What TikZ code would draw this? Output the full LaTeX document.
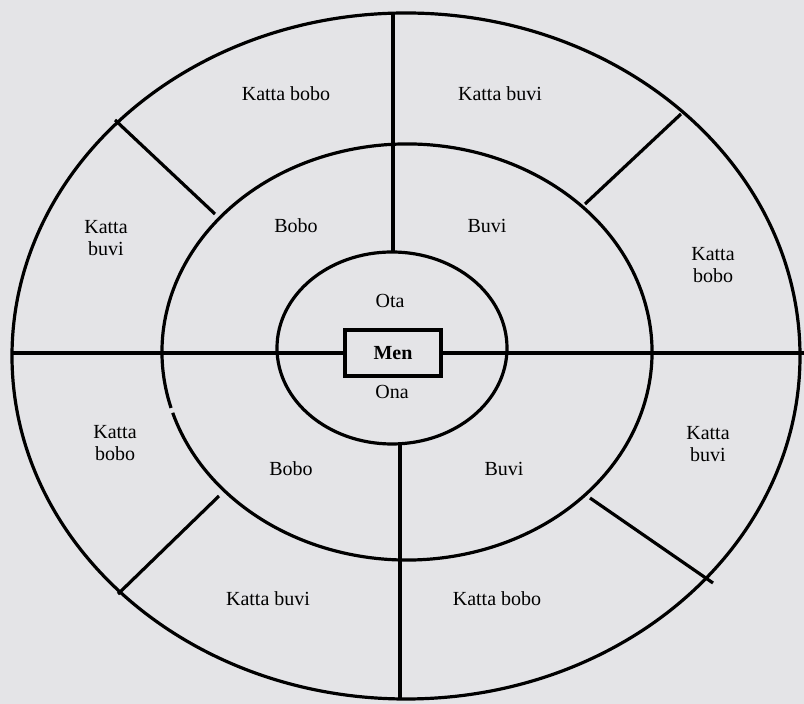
\documentclass[tikz,border=0pt]{standalone}
\usepackage{fontspec}
\setmainfont{Liberation Serif}
\definecolor{paper}{RGB}{228,228,231}
\tikzset{
  ring/.style={line width=3.2pt},
  lbl/.style={font=\fontsize{20}{22.5}\selectfont, align=center, inner sep=0pt},
}
\begin{document}
\begin{tikzpicture}[x=1pt, y=1pt]
  % Fond
  \fill[paper] (0,0) rectangle (804,704);
  \useasboundingbox (0,0) rectangle (804,704);
  % Ellipses (the middle one has a small break on the left)
  \draw[ring] (406,348) ellipse (394 and 343);
  \draw[ring] ([shift={(197:245 and 208)}]407,352)
    arc[start angle=197, end angle=555.6, x radius=245, y radius=208];
  \draw[ring] (392,356) ellipse (115 and 96);
  % Men
  \node[lbl, draw, ring, minimum width=96, minimum height=46,
    font=\fontsize{20}{22.5}\selectfont\bfseries] (men) at (393,351) {Men};
  % Axes
  \coordinate (west) at (12,351);
  \coordinate (east) at (804,351);
  \draw[ring] (west) -- (men.west);
  \draw[ring] (men.east) -- (east);
  \draw[ring] (393,452) -- (393,691);
  \draw[ring] (400,261) -- (400,4);
  % Diagonal separators of the outer ring
  \draw[ring] (115,584) -- (215,490);
  \draw[ring] (681,590) -- (585,500);
  \draw[ring] (118,110) -- (219,208);
  \draw[ring] (590,206) -- (713,121);
  % Inner ring
  \node[lbl] (ota) at (390,403) {Ota};
  \node[lbl] (ona) at (392,312) {Ona};
  % Middle ring
  \node[lbl] (bobo1) at (296,478) {Bobo};
  \node[lbl] (buvi1) at (487,478) {Buvi};
  \node[lbl] (bobo2) at (291,235) {Bobo};
  \node[lbl] (buvi2) at (504,235) {Buvi};
  % Outer ring
  \node[lbl] (kbobo1) at (286,610) {Katta bobo};
  \node[lbl] (kbuvi1) at (500,610) {Katta buvi};
  \node[lbl] (kbuvi2) at (106,466) {Katta\\buvi};
  \node[lbl] (kbobo2) at (713,439) {Katta\\bobo};
  \node[lbl] (kbobo3) at (115,261) {Katta\\bobo};
  \node[lbl] (kbuvi3) at (708,260) {Katta\\buvi};
  \node[lbl] (kbuvi4) at (268,105) {Katta buvi};
  \node[lbl] (kbobo4) at (497,105) {Katta bobo};
\end{tikzpicture}
\end{document}
